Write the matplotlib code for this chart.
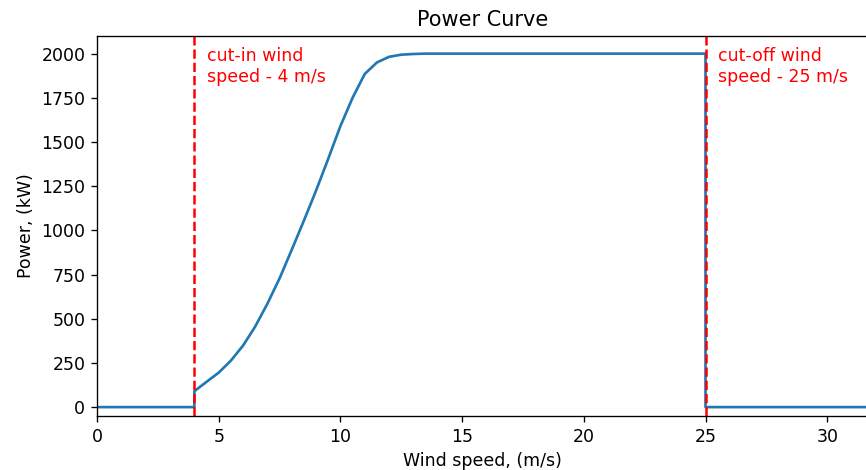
import matplotlib
matplotlib.use("Agg")
import matplotlib.pyplot as plt

# power curve (m/s -> kW)
wind_speed = [0, 4, 4, 4.5, 5, 5.5, 6, 6.5, 7, 7.5, 8, 8.5, 9, 9.5, 10,
              10.5, 11, 11.5, 12, 12.5, 13, 13.5, 25, 25, 32]
power = [0, 0, 90, 143, 195, 263, 348, 456, 585, 728, 890, 1055, 1225, 1405, 1590,
         1750, 1885, 1950, 1982, 1994, 1998, 2000, 2000, 0, 0]

cut_in = 4
cut_off = 25
cut_in_label = "cut-in wind\nspeed - 4 m/s"
cut_off_label = "cut-off wind\nspeed - 25 m/s"

plt.rcParams["font.size"] = 10.4

fig = plt.figure(figsize=(866 / 120, 470 / 120), dpi=120)
ax = fig.add_axes([0.112, 0.115, 0.891, 0.8085])

ax.plot(wind_speed, power, color="#1f77b4", linewidth=1.6)
ax.axvline(cut_in, color="r", linestyle="--", linewidth=1.5)
ax.axvline(cut_off, color="r", linestyle="--", linewidth=1.5)
ax.text(cut_in + 0.5, 2038, cut_in_label, color="r", va="top", fontsize=10.4)
ax.text(cut_off + 0.5, 2038, cut_off_label, color="r", va="top", fontsize=10.4)

ax.set_xlim(0, 31.7)
ax.set_ylim(-50, 2100)
ax.set_yticks(range(0, 2001, 250))
ax.set_title("Power Curve", fontsize=12.5)
ax.set_xlabel("Wind speed, (m/s)")
ax.set_ylabel("Power, (kW)")

fig.savefig("out.png", dpi=120)
